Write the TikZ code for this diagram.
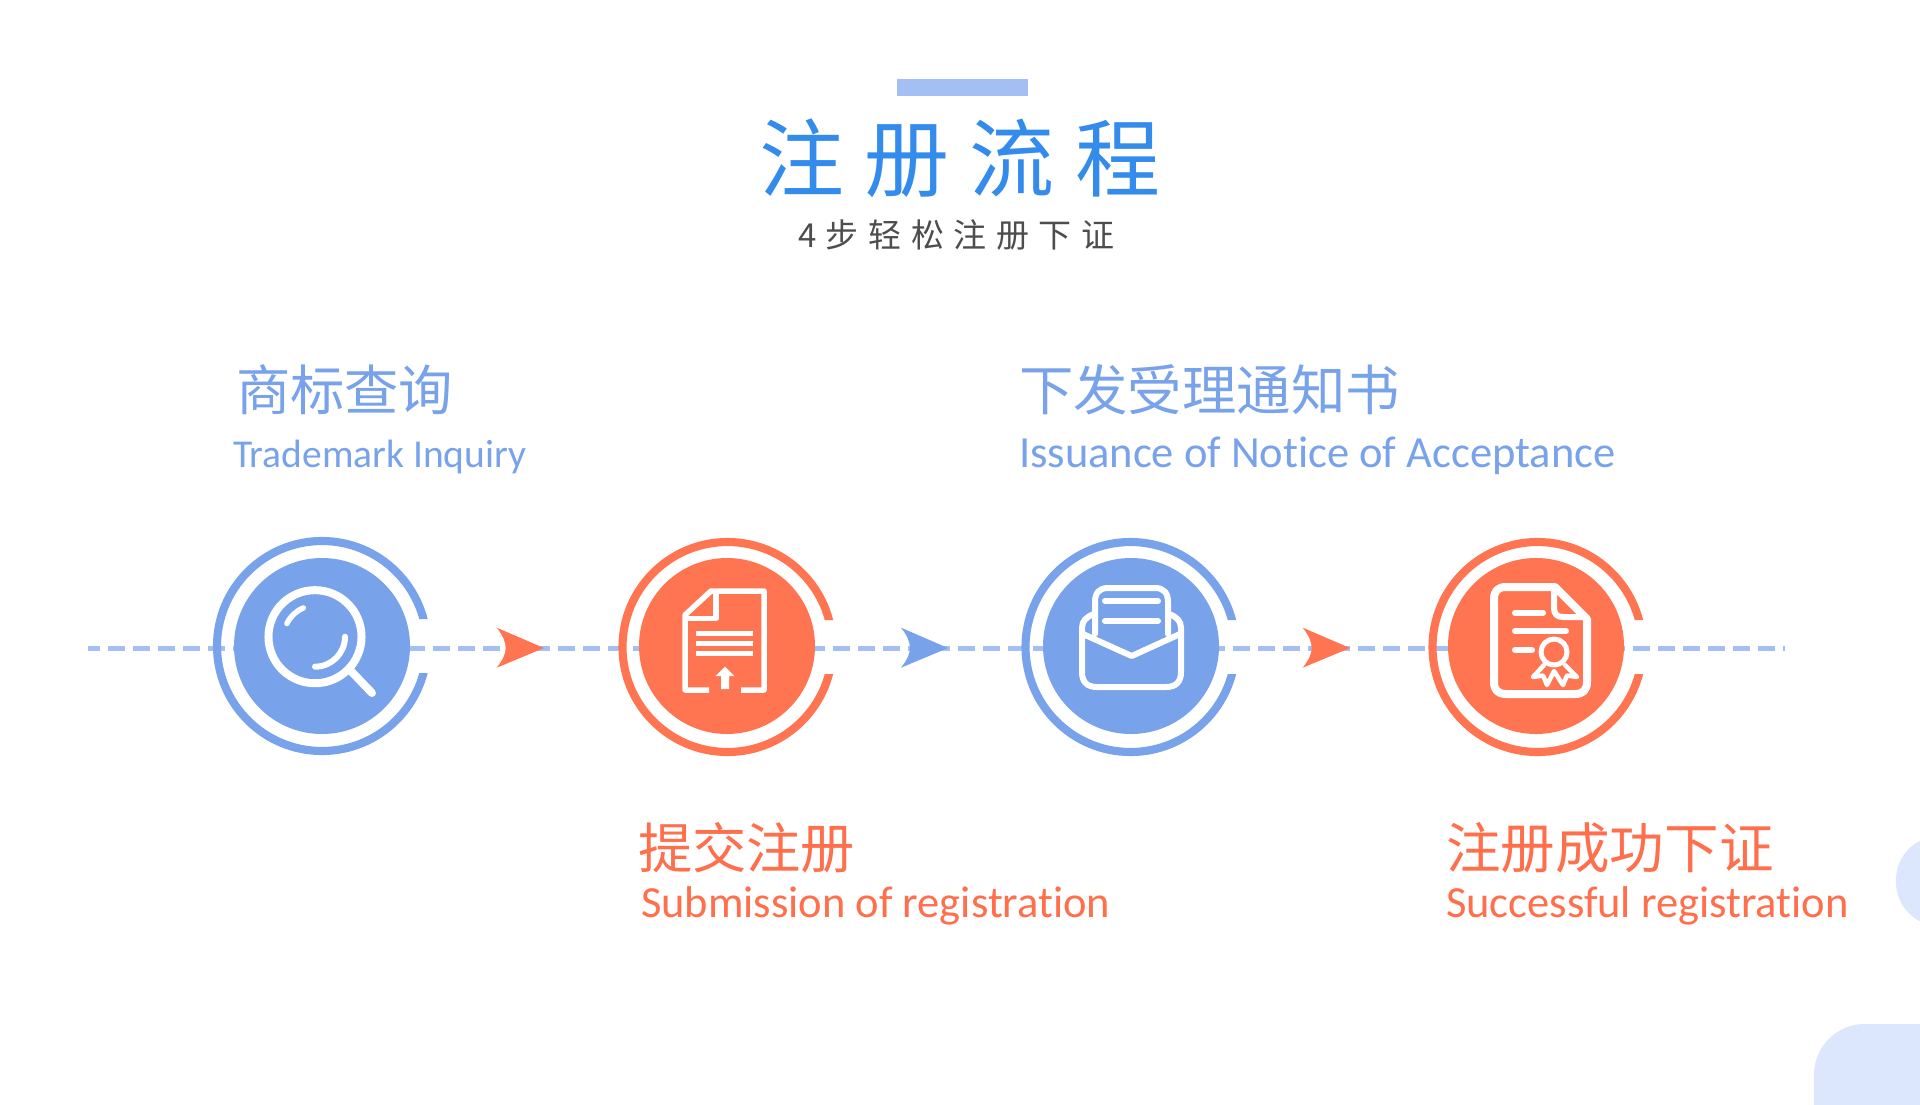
\documentclass[tikz,border=0pt]{standalone}
\usepackage{fontspec}
\setmainfont[Ligatures=NoCommon]{Carlito}
\newfontfamily\cjk{Noto Sans CJK SC}
\newfontfamily\cjkls[LetterSpace=24]{Noto Sans CJK SC}
\newfontfamily\cjklss[LetterSpace=29]{Noto Sans CJK SC}
\definecolor{bluemain}{HTML}{78A2EA}
\definecolor{bluelight}{HTML}{A3BFF3}
\definecolor{orangemain}{HTML}{FF7552}
\definecolor{titleblue}{HTML}{338BEC}
\definecolor{paleblue}{HTML}{DCE6FC}
\definecolor{subgray}{HTML}{4D4D4D}
\definecolor{textblue}{HTML}{78A2EA}
\definecolor{textorange}{HTML}{FF6F4C}
\newcommand{\pxfont}[1]{\fontsize{\dimexpr#1pt*3/4\relax}{\dimexpr#1pt*9/10\relax}\selectfont}
\tikzset{
  x=0.75pt,y=-0.75pt,
  disc/.style={circle,minimum size=132pt,inner sep=0pt,fill=#1},
  ringarc/.style={draw=#1,line width=6.1pt},
  flowline/.style={draw=bluelight,line width=3.75pt,dash pattern=on 12.4pt off 6.35pt,dash phase=3.75pt},
  ic/.style={draw=white,line width=#1*0.75pt,line cap=round,line join=round},
  lbl/.style={anchor=west,inner sep=0pt,outer sep=0pt},
}
\newcommand{\ringat}[3]{% x y colour
  \begin{scope}
    \clip (#1-125,#2-125) rectangle (#1+125,#2-27) (#1-125,#2-27) rectangle (#1,#2+27) (#1-125,#2+27) rectangle (#1+125,#2+125);
    \draw[ringarc=#3] (#1,#2) circle[radius=78.75pt];
  \end{scope}
}
\newcommand{\arrowat}[3]{% left x, tip x, colour
  \fill[#3] (#1,627.7) -- (#2,648) -- (#1,667.7) .. controls (#1+6,660) and (#1+9,654) .. (#1+9,648) .. controls (#1+9,642) and (#1+6,635) .. (#1,627.7) -- cycle;
}
\begin{document}
\begin{tikzpicture}
\useasboundingbox (0,0) rectangle (1920,1104);
\fill[white] (0,0) rectangle (1920,1104);
% decorations
\fill[paleblue,rounded corners=33pt] (1896,836) rectangle (2020,926);
\fill[paleblue,rounded corners=38pt] (1814,1024) rectangle (2020,1200);
% bar and titles
\fill[bluelight] (897,79) rectangle (1028,96);
\node[lbl,text=titleblue] (title) at (759,158) {\cjkls\pxfont{85}注册流程};
\node[lbl,text=subgray] (subtitle) at (798,235) {\cjklss\pxfont{33}4步轻松注册下证};
% flow line
\coordinate (linestart) at (88,648);
\coordinate (lineend) at (1785,648);
\draw[flowline] (linestart) -- (lineend);
% arrows
\arrowat{496.7}{544}{orangemain}
\arrowat{901}{948}{bluemain}
\arrowat{1302.7}{1350}{orangemain}
% discs
\ringat{322}{646}{bluemain}
\ringat{727.5}{647}{orangemain}
\ringat{1130.5}{647}{bluemain}
\ringat{1537.5}{647}{orangemain}
\node[disc=bluemain] (d1) at (322,646) {};
\node[disc=orangemain] (d2) at (727,646) {};
\node[disc=bluemain] (d3) at (1131,646) {};
\node[disc=orangemain] (d4) at (1536,646) {};
% magnifier
\draw[ic=8] (315,636.7) circle[radius=34.9pt];
\draw[ic=8] (350,670) -- (372,693);
\draw[ic=5.5] (315,636.7) ++(155:23.25pt) arc[start angle=155,end angle=112,radius=23.25pt];
\draw[ic=6] (315,636.7) ++(0:22.5pt) arc[start angle=0,end angle=-90,radius=22.5pt];
% document
\draw[ic=5.5,line cap=butt,line join=round] (709,690) -- (685,690) -- (685,615) -- (711,591) -- (764,591) -- (764,690) -- (741,690);
\draw[ic=5.5,line cap=butt] (685,618.5) -- (716,618.5) -- (716,593);
\foreach \yy in {633,643,653}{\draw[ic=5,line cap=butt] (696,\yy) -- (753,\yy);}
\fill[white] (725,666.5) -- (734.5,676) -- (729,676) -- (729,689) -- (721,689) -- (721,676) -- (715.5,676) -- cycle;
% envelope
\draw[ic=6] (1095,634) -- (1095,602) .. controls (1095,593) and (1099,588) .. (1108,588) -- (1155,588) .. controls (1164,588) and (1168,593) .. (1168,602) -- (1168,634);
\draw[ic=6] (1105,601) -- (1158,601);
\draw[ic=6] (1105,621) -- (1158,621);
\draw[ic=6] (1094,614) .. controls (1086,617) and (1082,621) .. (1082,628) -- (1082,672) .. controls (1082,682) and (1087,687) .. (1097,687) -- (1166,687) .. controls (1176,687) and (1181,682) .. (1181,672) -- (1181,628) .. controls (1181,621) and (1177,617) .. (1169,614);
\draw[ic=6] (1083,634) -- (1131.7,656) -- (1180,634);
% certificate
\draw[ic=8] (1555,587) -- (1506,587) .. controls (1498,587) and (1494,591) .. (1494,599) -- (1494,682) .. controls (1494,690) and (1498,694) .. (1506,694) -- (1575,694) .. controls (1583,694) and (1587,690) .. (1587,682) -- (1587,619) -- cycle;
\draw[ic=6] (1554,590) -- (1554,608) .. controls (1554,614) and (1557,617) .. (1563,617) -- (1585,617);
\draw[ic=6] (1515,612.7) -- (1543,612.7);
\draw[ic=6] (1515,631) -- (1566,631);
\draw[ic=6] (1515,650) -- (1532,650);
\draw[ic=5] (1554,652) circle[radius=9.75pt];
\draw[ic=4.5] (1544,665) -- (1533,677) -- (1543,675.5) -- (1547,685) -- (1554,671) -- (1563,685) -- (1567,675.5) -- (1577,677) -- (1565,665);
% labels
\node[lbl,text=textblue] (l1cn) at (236,389.5) {\cjk\pxfont{54.3}商标查询};
\node[lbl,text=textblue] (l1en) at (233,457) {\pxfont{39.5}Trademark Inquiry};
\node[lbl,text=textorange] (l2cn) at (638,848) {\cjk\pxfont{54.3}提交注册};
\node[lbl,text=textorange] (l2en) at (641,906) {\pxfont{44.5}Submission of registration};
\node[lbl,text=textblue] (l3cn) at (1019,389.5) {\cjk\pxfont{54.4}下发受理通知书};
\node[lbl,text=textblue] (l3en) at (1019,456) {\pxfont{44.5}Issuance of Notice of Acceptance};
\node[lbl,text=textorange] (l4cn) at (1446,848) {\cjk\pxfont{54.6}注册成功下证};
\node[lbl,text=textorange] (l4en) at (1446,906) {\pxfont{44.5}Successful registration};
\end{tikzpicture}
\end{document}
